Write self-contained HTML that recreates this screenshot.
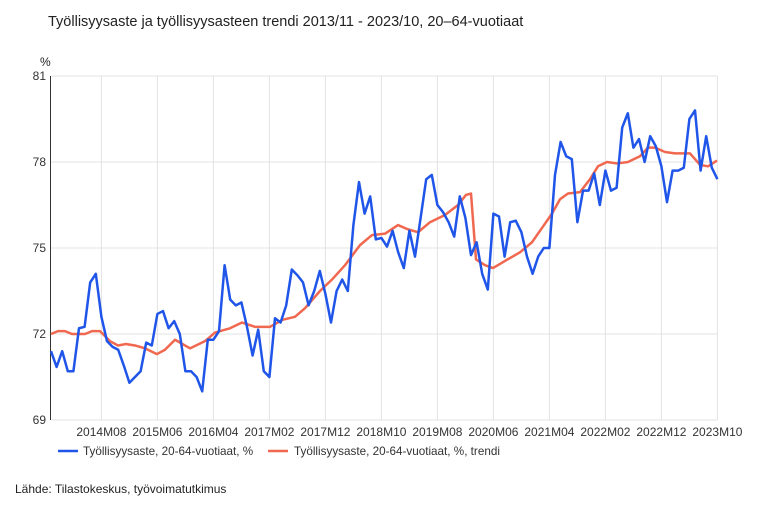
<!DOCTYPE html>
<html><head><meta charset="utf-8"><style>
body{margin:0;background:#fff;font-family:"Liberation Sans",sans-serif;}
</style></head><body>
<svg id="s" width="768" height="520" xmlns="http://www.w3.org/2000/svg" font-family="Liberation Sans, sans-serif">
<rect width="768" height="520" fill="#fff"/>
<text x="48" y="26" font-size="14.5" fill="#222">Työllisyysaste ja työllisyysasteen trendi 2013/11 - 2023/10, 20–64-vuotiaat</text>
<text x="40" y="66" font-size="12" fill="#222">%</text>
<g id="grid" stroke="#e3e3e3" stroke-width="1"></g>
<g id="lab" font-size="12" fill="#333"></g>
<line x1="50.5" y1="76" x2="50.5" y2="420" stroke="#333" stroke-width="1"/>
<polyline id="red" fill="none" stroke="#f0684f" stroke-width="2.5" stroke-linejoin="round"/>
<polyline id="blue" fill="none" stroke="#1f55e8" stroke-width="2.5" stroke-linejoin="round"/>
<line x1="58" y1="451" x2="78" y2="451" stroke="#1f55e8" stroke-width="2.5"/>
<text x="83" y="455" font-size="11.7" fill="#333">Työllisyysaste, 20-64-vuotiaat, %</text>
<line x1="268" y1="451" x2="288" y2="451" stroke="#f0684f" stroke-width="2.5"/>
<text x="294" y="455" font-size="11.7" fill="#333">Työllisyysaste, 20-64-vuotiaat, %, trendi</text>
<text x="15" y="493" font-size="12" fill="#222">Lähde: Tilastokeskus, työvoimatutkimus</text>
</svg>
<script>
var ns="http://www.w3.org/2000/svg";
function Y(v){return 420-(v-69)*28.667;}
function X(i){return 51+i*5.6;}
var g=document.getElementById('grid'),l=document.getElementById('lab');
function el(p,t,a,txt){var e=document.createElementNS(ns,t);for(var k in a)e.setAttribute(k,a[k]);if(txt)e.textContent=txt;p.appendChild(e);}
[81,78,75,72,69].forEach(function(v){var y=Y(v);el(g,'line',{x1:51,x2:717,y1:y,y2:y});el(l,'text',{x:46,y:y+4,'text-anchor':'end'},v);});
var labs=['2014M08','2015M06','2016M04','2017M02','2017M12','2018M10','2019M08','2020M06','2021M04','2022M02','2022M12','2023M10'];
labs.forEach(function(t,k){var x=X(9+10*k);el(g,'line',{x1:x,x2:x,y1:76,y2:420});el(l,'text',{x:x,y:436,'text-anchor':'middle'},t);});
var b=[71.4,70.85,71.4,70.7,70.7,72.2,72.25,73.8,74.1,72.6,71.75,71.55,71.45,70.9,70.3,70.5,70.7,71.7,71.6,72.7,72.8,72.2,72.45,72.0,70.7,70.7,70.5,70.0,71.8,71.8,72.1,74.4,73.2,73.0,73.1,72.25,71.25,72.15,70.7,70.5,72.55,72.4,73.0,74.25,74.05,73.8,73.0,73.5,74.2,73.4,72.4,73.5,73.9,73.5,75.8,77.3,76.2,76.8,75.3,75.35,75.05,75.6,74.85,74.3,75.6,74.7,76.05,77.4,77.55,76.5,76.25,75.9,75.4,76.8,76.05,74.75,75.2,74.1,73.55,76.2,76.1,74.7,75.9,75.95,75.55,74.7,74.1,74.7,75.0,75.0,77.55,78.7,78.2,78.1,75.9,77.0,77.0,77.6,76.5,77.7,77.0,77.1,79.2,79.7,78.5,78.8,78.0,78.9,78.55,77.85,76.6,77.7,77.7,77.8,79.5,79.8,77.7,78.9,77.8,77.4];
document.getElementById('blue').setAttribute('points',b.map(function(v,i){return X(i)+','+Y(v);}).join(' '));
var r=[[51,72.0],[58,72.1],[65,72.1],[72,72.0],[85,72.0],[92,72.1],[100,72.1],[110,71.75],[118,71.6],[126,71.65],[135,71.6],[145,71.5],[157,71.3],[165,71.45],[175,71.8],[190,71.5],[205,71.75],[215,72.05],[230,72.2],[242,72.4],[255,72.25],[270,72.25],[283,72.5],[295,72.6],[305,72.9],[320,73.5],[332,73.9],[345,74.4],[360,75.1],[372,75.45],[385,75.5],[398,75.8],[408,75.65],[418,75.55],[430,75.9],[445,76.15],[458,76.5],[466,76.85],[471,76.9],[476,74.6],[485,74.4],[493,74.3],[505,74.55],[520,74.85],[532,75.2],[542,75.7],[552,76.2],[560,76.7],[568,76.9],[580,76.95],[590,77.4],[598,77.85],[607,78.0],[617,77.95],[628,78.0],[640,78.2],[648,78.5],[655,78.5],[665,78.35],[675,78.3],[690,78.3],[700,77.9],[708,77.85],[717,78.05]];
document.getElementById('red').setAttribute('points',r.map(function(p){return p[0]+','+Y(p[1]);}).join(' '));
</script>
</body></html>
